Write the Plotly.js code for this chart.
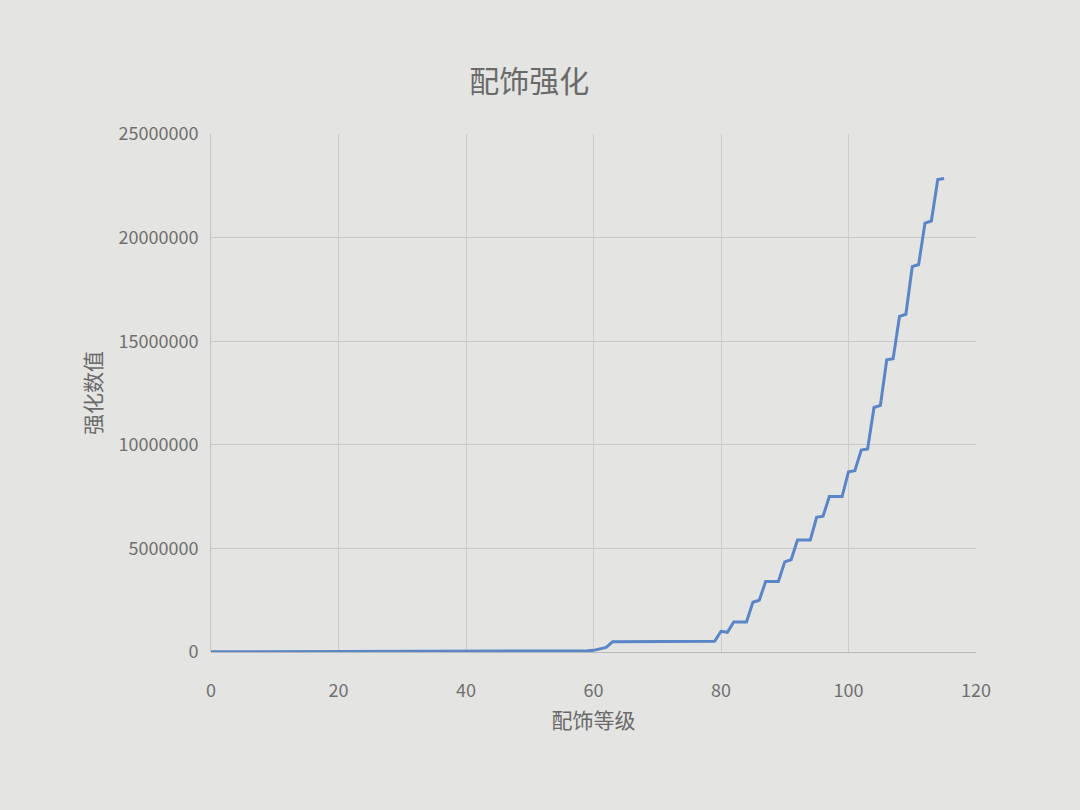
<!DOCTYPE html>
<html>
<head>
<meta charset="utf-8">
<script src="https://cdn.plot.ly/plotly-3.0.1.min.js"></script>
<style>html,body{margin:0;padding:0;background:#e4e4e2;}#chart{width:1080px;height:810px;}</style>
</head>
<body>
<div id="chart"></div>
<script>
// 配饰等级 (accessory level)
const levels = [
  0,5,10,15,20,25,30,35,40,45,50,55,
  58,59,60,61,62,63,64,65,66,67,68,69,70,71,72,73,74,75,76,77,78,79,
  80,81,82,83,84,85,86,87,88,89,90,91,92,93,94,95,96,97,98,99,
  100,101,102,103,104,105,106,107,108,109,110,111,112,113,114,115
];
// 强化数值 (enhancement value)
const values = [
  10000,12000,14000,16000,18000,20000,22000,25000,28000,32000,36000,42000,
  50000,60000,80000,150000,220000,500000,500000,500000,500000,500000,500000,500000,500000,500000,500000,500000,500000,500000,500000,500000,500000,520000,
  1000000,950000,1450000,1450000,1450000,2400000,2500000,3400000,3400000,3400000,4350000,4450000,5400000,5400000,5400000,6500000,6550000,7500000,7500000,7500000,
  8700000,8750000,9750000,9800000,11800000,11900000,14100000,14150000,16200000,16300000,18600000,18700000,20700000,20800000,22800000,22850000
];
const xTicks = [0,20,40,60,80,100,120];
const yTicks = [0,5000000,10000000,15000000,20000000,25000000];

const font = 'Noto Sans CJK SC, "Noto Sans", sans-serif';
Plotly.newPlot('chart', [{
  x: levels, y: values, type: 'scatter', mode: 'lines',
  line: {color: '#5a86c8', width: 3}
}], {
  width: 1080, height: 810,
  paper_bgcolor: '#e4e4e2', plot_bgcolor: '#e4e4e2',
  margin: {l: 211, r: 104, t: 134, b: 158},
  showlegend: false,
  title: {text: '配饰强化', x: 0.49, xanchor: 'center', y: 0.9, yanchor: 'middle',
          font: {family: font, size: 30, color: '#6a6a6a'}},
  xaxis: {
    range: [0, 120], tickvals: xTicks, ticktext: xTicks.map(String),
    showgrid: true, gridcolor: '#cdcdcd', gridwidth: 1, zeroline: false,
    showline: false, ticks: 'outside', ticklen: 22, tickcolor: 'rgba(0,0,0,0)',
    tickfont: {family: font, size: 18, color: '#707070'},
    title: {text: '配饰等级', font: {family: font, size: 21, color: '#6a6a6a'}, standoff: 12}
  },
  yaxis: {
    range: [0, 25000000], tickvals: yTicks, ticktext: yTicks.map(String),
    showgrid: true, gridcolor: '#c8c8c8', gridwidth: 1, zeroline: true, zerolinecolor: '#b8b8b8',
    showline: true, linecolor: '#c4c4c4', linewidth: 1,
    ticks: 'outside', ticklen: 8, tickcolor: 'rgba(0,0,0,0)',
    tickfont: {family: font, size: 18, color: '#707070'},
    title: {text: '强化数值', font: {family: font, size: 21, color: '#6a6a6a'}, standoff: 11}
  }
}, {displayModeBar: false});
</script>
</body>
</html>
